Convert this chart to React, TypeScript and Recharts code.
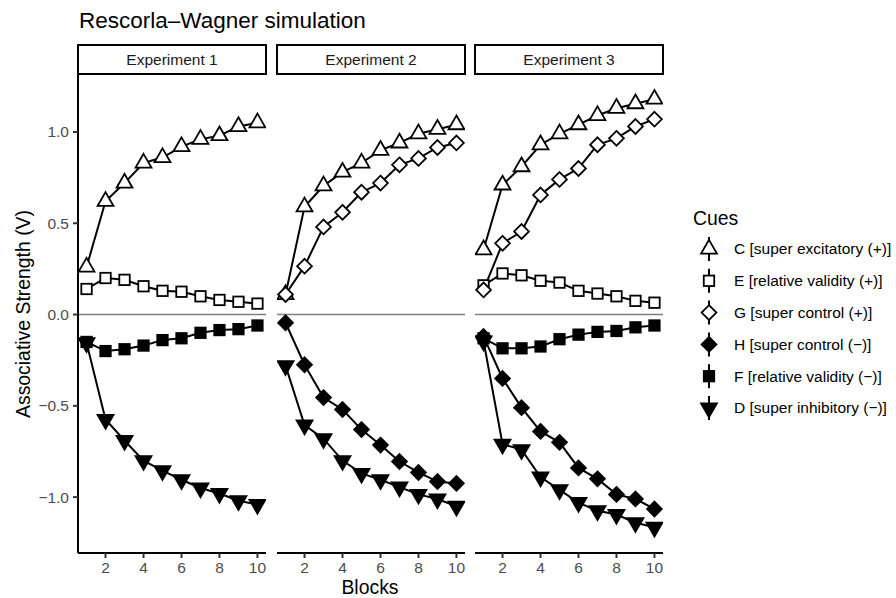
import React from "react";
import { LineChart, Line, XAxis, YAxis, ReferenceLine } from "recharts";

// blocks and facet labels
const blocks = [1, 2, 3, 4, 5, 6, 7, 8, 9, 10];
const experiments = ["Experiment 1", "Experiment 2", "Experiment 3"];
const xTicks = [2, 4, 6, 8, 10];
const yTicks = [-1, -0.5, 0, 0.5, 1];

// Experiment 1
const exp1C = [0.26, 0.62, 0.72, 0.83, 0.86, 0.92, 0.96, 0.98, 1.03, 1.05];
const exp1E = [0.14, 0.2, 0.19, 0.155, 0.13, 0.125, 0.1, 0.08, 0.07, 0.06];
const exp1F = [-0.15, -0.2, -0.19, -0.17, -0.14, -0.13, -0.1, -0.085, -0.08, -0.06];
const exp1D = [-0.155, -0.575, -0.69, -0.8, -0.855, -0.905, -0.95, -0.98, -1.02, -1.04];

// Experiment 2
const exp2C = [0.11, 0.59, 0.705, 0.78, 0.83, 0.9, 0.94, 0.99, 1.015, 1.04];
const exp2G = [0.11, 0.265, 0.48, 0.56, 0.67, 0.72, 0.82, 0.855, 0.915, 0.94];
const exp2H = [-0.045, -0.275, -0.455, -0.52, -0.63, -0.715, -0.805, -0.865, -0.915, -0.925];
const exp2D = [-0.28, -0.605, -0.68, -0.8, -0.87, -0.905, -0.945, -0.985, -1.01, -1.05];

// Experiment 3
const exp3C = [0.355, 0.71, 0.81, 0.93, 0.99, 1.04, 1.09, 1.13, 1.155, 1.18];
const exp3E = [0.16, 0.225, 0.215, 0.185, 0.175, 0.13, 0.115, 0.1, 0.075, 0.065];
const exp3G = [0.135, 0.39, 0.455, 0.655, 0.74, 0.8, 0.93, 0.965, 1.03, 1.07];
const exp3H = [-0.12, -0.35, -0.51, -0.64, -0.7, -0.84, -0.9, -0.985, -1.01, -1.065];
const exp3F = [-0.13, -0.185, -0.185, -0.175, -0.135, -0.11, -0.095, -0.09, -0.07, -0.06];
const exp3D = [-0.145, -0.71, -0.74, -0.89, -0.96, -1.03, -1.075, -1.095, -1.14, -1.165];

const cueOrder = ["C", "E", "G", "H", "F", "D"];
const cueLabels: Record<string, string> = {
  C: "C [super excitatory (+)]",
  E: "E [relative validity (+)]",
  G: "G [super control (+)]",
  H: "H [super control (\u2212)]",
  F: "F [relative validity (\u2212)]",
  D: "D [super inhibitory (\u2212)]",
};

type Shape = "triUp" | "square" | "diamond" | "triDown";
const cueStyle: Record<string, { shape: Shape; fill: string }> = {
  C: { shape: "triUp", fill: "#fff" },
  E: { shape: "square", fill: "#fff" },
  G: { shape: "diamond", fill: "#fff" },
  H: { shape: "diamond", fill: "#000" },
  F: { shape: "square", fill: "#000" },
  D: { shape: "triDown", fill: "#000" },
};

const panels = [
  { cues: { C: exp1C, E: exp1E, F: exp1F, D: exp1D } as Record<string, number[]> },
  { cues: { C: exp2C, G: exp2G, H: exp2H, D: exp2D } as Record<string, number[]> },
  { cues: { C: exp3C, E: exp3E, G: exp3G, H: exp3H, F: exp3F, D: exp3D } as Record<string, number[]> },
];

const FONT = '"Liberation Sans", Arial, Helvetica, sans-serif';
const PLOT_LEFTS = [78, 277, 475];
const PLOT_W = 188;
const PLOT_TOP = 75;
const H = 598;
const X_AXIS_H = 30;
const Y_AXIS_W = 60;
const R = 5.9;

function Marker({ cx, cy, shape, fill }: { cx?: number; cy?: number; shape: Shape; fill: string }) {
  if (cx == null || cy == null) return null;
  const sw = 1.8;
  if (shape === "square") {
    const s = 2 * R * 0.886;
    return <rect x={cx - s / 2} y={cy - s / 2} width={s} height={s} fill={fill} stroke="#000" strokeWidth={sw} />;
  }
  if (shape === "diamond") {
    const d = R * 1.253;
    return (
      <polygon
        points={`${cx},${cy - d} ${cx + d},${cy} ${cx},${cy + d} ${cx - d},${cy}`}
        fill={fill}
        stroke="#000"
        strokeWidth={sw}
        strokeLinejoin="miter"
      />
    );
  }
  const r = R * 1.555;
  const xc = r * 0.866;
  const yc = r / 2;
  const pts =
    shape === "triUp"
      ? `${cx},${cy - r} ${cx + xc},${cy + yc} ${cx - xc},${cy + yc}`
      : `${cx},${cy + r} ${cx + xc},${cy - yc} ${cx - xc},${cy - yc}`;
  return <polygon points={pts} fill={fill} stroke="#000" strokeWidth={sw} strokeLinejoin="miter" />;
}

const fmtY = (v: number) => {
  const s = Math.abs(v).toFixed(1);
  return v < 0 ? "\u2212" + s : s;
};

function Panel({ index }: { index: number }) {
  const { cues } = panels[index];
  const keys = cueOrder.filter((k) => cues[k]);
  const rows = blocks.map((b, i) => {
    const row: Record<string, number> = { block: b };
    keys.forEach((k) => (row[k] = cues[k][i]));
    return row;
  });
  const showY = index === 0;
  const leftPad = showY ? PLOT_LEFTS[0] - Y_AXIS_W : 10;
  const svgLeft = PLOT_LEFTS[index] - (showY ? PLOT_LEFTS[0] : 10);
  const width = (showY ? PLOT_LEFTS[0] : 10) + PLOT_W + 4;
  return (
    <div style={{ position: "absolute", left: svgLeft, top: 0 }}>
      <LineChart
        width={width}
        height={H}
        data={rows}
        margin={{ top: PLOT_TOP, right: 4, bottom: 45 - X_AXIS_H, left: leftPad }}
      >
        <ReferenceLine y={0} stroke="#7f7f7f" strokeWidth={1.6} />
        <XAxis
          type="number"
          dataKey="block"
          domain={[0.55, 10.45]}
          ticks={xTicks}
          allowDataOverflow
          height={X_AXIS_H}
          tickSize={5}
          tickMargin={4}
          axisLine={{ stroke: "#000", strokeWidth: 2 }}
          tickLine={{ stroke: "#333", strokeWidth: 2 }}
          tick={{ fill: "#4d4d4d", fontSize: 15.5, fontFamily: FONT }}
        />
        <YAxis
          type="number"
          domain={[-1.306, 1.312]}
          ticks={yTicks}
          allowDataOverflow
          hide={!showY}
          width={Y_AXIS_W}
          tickSize={5}
          tickMargin={4}
          tickFormatter={fmtY}
          axisLine={{ stroke: "#000", strokeWidth: 2 }}
          tickLine={{ stroke: "#333", strokeWidth: 2 }}
          tick={{ fill: "#4d4d4d", fontSize: 15.5, fontFamily: FONT }}
        />
        {keys.map((k) => (
          <Line
            key={`line-${k}`}
            type="linear"
            dataKey={k}
            stroke="#000"
            strokeWidth={2}
            dot={false}
            activeDot={false}
            isAnimationActive={false}
          />
        ))}
        {keys.map((k) => (
          <Line
            key={`pts-${k}`}
            type="linear"
            dataKey={k}
            stroke="none"
            activeDot={false}
            isAnimationActive={false}
            dot={(p: any) => (
              <Marker key={`${k}-${p.index}`} cx={p.cx} cy={p.cy} shape={cueStyle[k].shape} fill={cueStyle[k].fill} />
            )}
          />
        ))}
      </LineChart>
    </div>
  );
}

export default function App() {
  const legendX = 709;
  const legendY0 = 249;
  const legendStep = 31.8;
  return (
    <div
      style={{
        position: "absolute",
        left: 0,
        top: 0,
        width: 896,
        height: H,
        background: "#fff",
        fontFamily: FONT,
        overflow: "hidden",
      }}
    >
      {experiments.map((_, i) => (
        <Panel key={i} index={i} />
      ))}
      <svg width={896} height={H} style={{ position: "absolute", left: 0, top: 0, pointerEvents: "none" }}>
        <text x={79} y={28} fontSize={22.5} fill="#000" fontFamily={FONT}>
          Rescorla–Wagner simulation
        </text>
        {experiments.map((name, i) => (
          <g key={name}>
            <rect x={PLOT_LEFTS[i]} y={45} width={PLOT_W} height={29} fill="#fff" stroke="#000" strokeWidth={2} />
            <text
              x={PLOT_LEFTS[i] + PLOT_W / 2}
              y={59.5}
              dy="0.35em"
              textAnchor="middle"
              fontSize={15.5}
              fill="#1a1a1a"
              fontFamily={FONT}
            >
              {name}
            </text>
          </g>
        ))}
        <text x={370} y={594} textAnchor="middle" fontSize={19.4} fill="#000" fontFamily={FONT}>
          Blocks
        </text>
        <text
          x={30}
          y={314}
          textAnchor="middle"
          fontSize={19.4}
          fill="#000"
          fontFamily={FONT}
          transform="rotate(-90, 30, 314)"
        >
          Associative Strength (V)
        </text>
        <text x={693} y={225} fontSize={19.4} fill="#000" fontFamily={FONT}>
          Cues
        </text>
        {cueOrder.map((k, i) => {
          const y = legendY0 + i * legendStep;
          return (
            <g key={k}>
              <line x1={legendX} x2={legendX} y1={y - 12} y2={y + 12} stroke="#000" strokeWidth={2} />
              <Marker cx={legendX} cy={y} shape={cueStyle[k].shape} fill={cueStyle[k].fill} />
              <text x={734} y={y} dy="0.35em" fontSize={15.5} fill="#000" fontFamily={FONT}>
                {cueLabels[k]}
              </text>
            </g>
          );
        })}
      </svg>
    </div>
  );
}
